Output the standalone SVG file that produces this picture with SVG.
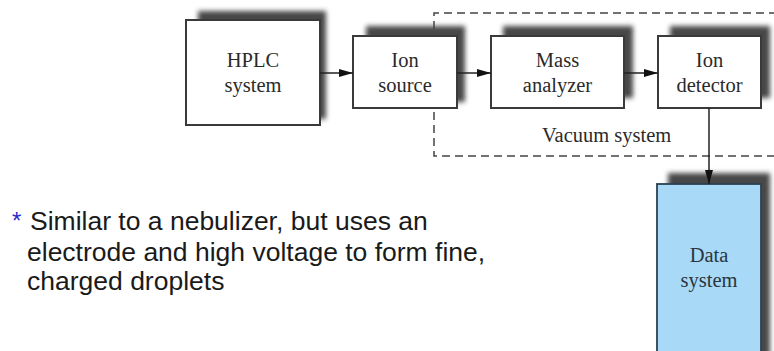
<svg xmlns="http://www.w3.org/2000/svg" width="774" height="351" viewBox="0 0 774 351">
<style>
.box{fill:#fff;stroke:#3a3a3a;stroke-width:2}
.shadow{fill:#474747;filter:url(#blur)}
.lbl{font-family:"Liberation Serif","Times New Roman",serif;font-size:20.5px;fill:#2a2a2a;text-anchor:middle}
.conn{stroke:#222;stroke-width:1.5;fill:none;marker-end:url(#arr)}
.note{font-family:"Liberation Sans",Arial,sans-serif;font-size:26.5px;fill:#1a1a1a}
</style>
<defs>
<filter id="blur" x="-20%" y="-20%" width="140%" height="140%"><feGaussianBlur stdDeviation="2.5"/></filter>
<marker id="arr" viewBox="0 0 14 8" refX="14" refY="4" markerWidth="14" markerHeight="8" markerUnits="userSpaceOnUse" orient="auto"><path d="M0,0 L14,4 L0,8 z" fill="#111"/></marker>
</defs>
<rect width="774" height="351" fill="#fff"/>
<g id="vacuum">
<path d="M790,13 L434,13 L434,156 L790,156" fill="none" stroke="#444" stroke-width="1.5" stroke-dasharray="8,5"/>
<text x="542" y="142" class="lbl" style="text-anchor:start">Vacuum system</text>
</g>
<g id="hplc">
<rect class="shadow" x="198" y="11" width="128" height="108"/>
<rect class="box" x="186" y="20" width="134" height="105"/>
<text class="lbl" x="253" y="67">HPLC</text>
<text class="lbl" x="253" y="92">system</text>
</g>
<g id="ion-source">
<rect class="shadow" x="366" y="26" width="99" height="76"/>
<rect class="box" x="353" y="36" width="104" height="72"/>
<text class="lbl" x="405" y="67">Ion</text>
<text class="lbl" x="405" y="92">source</text>
</g>
<g id="mass-analyzer">
<rect class="shadow" x="503" y="26" width="130" height="72"/>
<rect class="box" x="491" y="36" width="133" height="72"/>
<text class="lbl" x="557.5" y="67">Mass</text>
<text class="lbl" x="557.5" y="92">analyzer</text>
</g>
<g id="ion-detector">
<rect class="shadow" x="670" y="26" width="100" height="72"/>
<rect class="box" x="658" y="36" width="103" height="72"/>
<text class="lbl" x="709.5" y="67">Ion</text>
<text class="lbl" x="709.5" y="92">detector</text>
</g>
<g id="data-system">
<rect class="shadow" x="668" y="173" width="102" height="190"/>
<rect x="657" y="184" width="104" height="180" fill="#a8d9f6" stroke="#2c4252" stroke-width="1.8"/>
<text class="lbl" x="709" y="262" style="fill:#2a3540">Data</text>
<text class="lbl" x="709" y="287" style="fill:#2a3540">system</text>
</g>
<g id="connectors">
<line class="conn" x1="320" y1="73" x2="353" y2="73"/>
<line class="conn" x1="457" y1="73" x2="491" y2="73"/>
<line class="conn" x1="624" y1="73" x2="658" y2="73"/>
<line class="conn" x1="709" y1="108" x2="709" y2="184"/>
</g>
<g id="note">
<text x="12" y="229" font-family="Liberation Sans,Arial,sans-serif" font-size="24" fill="#2a2acc">*</text>
<text class="note" x="30" y="230">Similar to a nebulizer, but uses an</text>
<text class="note" x="27" y="261">electrode and high voltage to form fine,</text>
<text class="note" x="27" y="290">charged droplets</text>
</g>
</svg>
